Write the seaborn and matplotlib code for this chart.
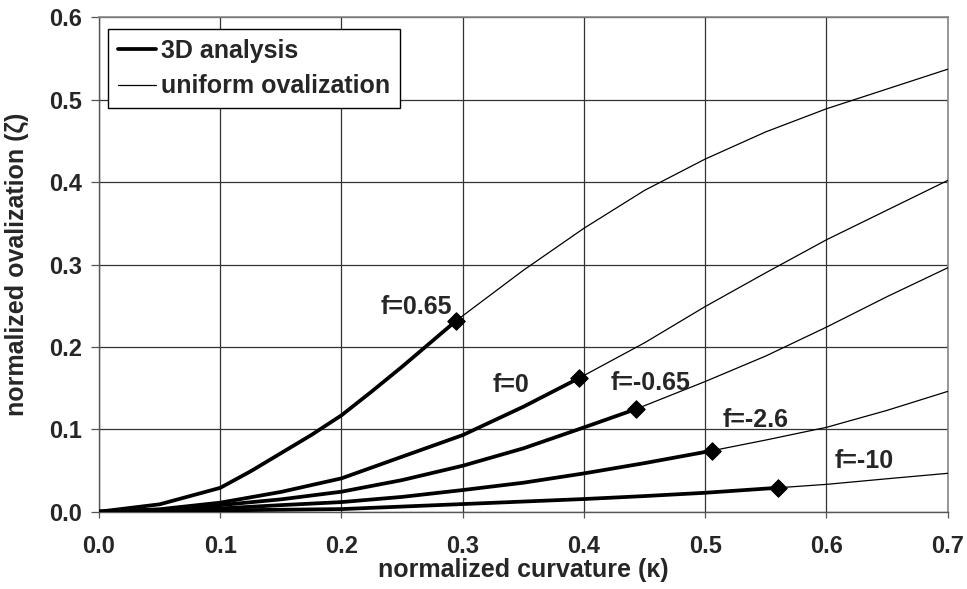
import matplotlib
matplotlib.use("Agg")
import matplotlib.pyplot as plt
import pandas as pd
import seaborn as sns
from matplotlib.lines import Line2D

# f values of the five cases
f_labels = ["f=0.65", "f=0", "f=-0.65", "f=-2.6", "f=-10"]

# 3D analysis (thick lines)
k_3d = {
    "f=0.65": [0.0, 0.05, 0.10, 0.125, 0.15, 0.175, 0.20, 0.225, 0.25, 0.2946],
    "f=0": [0.0, 0.05, 0.10, 0.15, 0.20, 0.25, 0.30, 0.35, 0.3955],
    "f=-0.65": [0.0, 0.05, 0.10, 0.15, 0.20, 0.25, 0.30, 0.35, 0.40, 0.443],
    "f=-2.6": [0.0, 0.05, 0.10, 0.15, 0.20, 0.25, 0.30, 0.35, 0.40, 0.45, 0.5055],
    "f=-10": [0.0, 0.10, 0.20, 0.30, 0.40, 0.45, 0.50, 0.5604],
}
z_3d = {
    "f=0.65": [0.0, 0.009, 0.029, 0.049, 0.071, 0.093, 0.117, 0.146, 0.176, 0.2318],
    "f=0": [0.0, 0.003, 0.011, 0.024, 0.0405, 0.0668, 0.093, 0.1274, 0.1618],
    "f=-0.65": [0.0, 0.002, 0.008, 0.015, 0.0243, 0.0384, 0.0558, 0.0769, 0.1023, 0.1246],
    "f=-2.6": [0.0, 0.001, 0.004, 0.008, 0.0117, 0.018, 0.0263, 0.0352, 0.0465, 0.059, 0.074],
    "f=-10": [0.0, 0.0016, 0.0032, 0.0093, 0.0154, 0.019, 0.023, 0.0291],
}

# uniform ovalization (thin lines), from the end of the 3D curve to 0.7
k_uni = {
    "f=0.65": [0.2946, 0.35, 0.40, 0.45, 0.50, 0.55, 0.60, 0.65, 0.70],
    "f=0": [0.3955, 0.45, 0.50, 0.55, 0.60, 0.65, 0.70],
    "f=-0.65": [0.443, 0.50, 0.55, 0.60, 0.65, 0.70],
    "f=-2.6": [0.5055, 0.55, 0.60, 0.65, 0.70],
    "f=-10": [0.5604, 0.60, 0.65, 0.70],
}
z_uni = {
    "f=0.65": [0.2318, 0.293, 0.344, 0.390, 0.428, 0.461, 0.489, 0.513, 0.537],
    "f=0": [0.1618, 0.205, 0.249, 0.290, 0.330, 0.366, 0.402],
    "f=-0.65": [0.1246, 0.158, 0.189, 0.224, 0.261, 0.296],
    "f=-2.6": [0.074, 0.087, 0.1024, 0.123, 0.146],
    "f=-10": [0.0291, 0.0332, 0.040, 0.0466],
}

# label anchor points
label_k = [0.262, 0.340, 0.455, 0.542, 0.631]
label_z = [0.249, 0.154, 0.156, 0.111, 0.061]

sns.set_style("ticks")
plt.rcParams["font.family"] = ["Liberation Sans", "DejaVu Sans"]
plt.rcParams["font.weight"] = "bold"

fig, ax = plt.subplots(figsize=(9.67, 5.89), dpi=100)
fig.subplots_adjust(left=0.1024, right=0.980, top=0.9706, bottom=0.1312)

for name in f_labels:
    d3 = pd.DataFrame({"kappa": k_3d[name], "zeta": z_3d[name]})
    du = pd.DataFrame({"kappa": k_uni[name], "zeta": z_uni[name]})
    sns.lineplot(data=du, x="kappa", y="zeta", color="black", lw=0.9,
                 sort=False, ax=ax, zorder=3)
    sns.lineplot(data=d3, x="kappa", y="zeta", color="black", lw=2.7,
                 sort=False, ax=ax, zorder=4)
    ends = d3.tail(1)
    sns.scatterplot(data=ends, x="kappa", y="zeta", marker="D", s=80,
                    color="black", edgecolor="black", ax=ax, zorder=5)

for txt, kx, zy in zip(f_labels, label_k, label_z):
    ax.text(kx, zy, txt, ha="center", va="center", fontsize=18,
            fontweight="bold", zorder=6)

ax.set_xlim(0, 0.7)
ax.set_ylim(0, 0.6)
ax.set_xticks([0.0, 0.1, 0.2, 0.3, 0.4, 0.5, 0.6, 0.7])
ax.set_yticks([0.0, 0.1, 0.2, 0.3, 0.4, 0.5, 0.6])
ax.xaxis.set_major_formatter(matplotlib.ticker.FormatStrFormatter("%.1f"))
ax.yaxis.set_major_formatter(matplotlib.ticker.FormatStrFormatter("%.1f"))
ax.grid(True, color="#333333", lw=0.9)
ax.set_axisbelow(True)

for side in ["top", "right"]:
    ax.spines[side].set_color("#888888")
    ax.spines[side].set_linewidth(1.2)
for side in ["left", "bottom"]:
    ax.spines[side].set_color("#555555")
    ax.spines[side].set_linewidth(1.0)

ax.tick_params(axis="x", length=4, width=0.9, pad=13, labelsize=17,
               color="#555555")
ax.tick_params(axis="y", length=6, width=0.9, pad=6, labelsize=17,
               color="#555555")
for lab in ax.get_xticklabels() + ax.get_yticklabels():
    lab.set_fontweight("bold")

ax.set_xlabel("normalized curvature (κ)", fontsize=18, fontweight="bold")
ax.set_ylabel("normalized ovalization (ζ)", fontsize=18, fontweight="bold")
ax.xaxis.set_label_coords(0.5, -0.093)
ax.yaxis.set_label_coords(-0.083, 0.5)

handles = [
    Line2D([], [], color="black", lw=2.7),
    Line2D([], [], color="black", lw=0.9),
]
leg = ax.legend(handles, ["3D analysis", "uniform ovalization"],
                loc="upper left", bbox_to_anchor=(0.0106, 0.976),
                frameon=True, fancybox=False, shadow=False,
                prop={"size": 18, "weight": "bold"},
                handlelength=1.5, handletextpad=0.2, labelspacing=0.45,
                borderpad=0.4, borderaxespad=0.0)
leg.get_frame().set_edgecolor("black")
leg.get_frame().set_linewidth(1.0)
leg.get_frame().set_alpha(1.0)

fig.savefig("out.png", dpi=100)
